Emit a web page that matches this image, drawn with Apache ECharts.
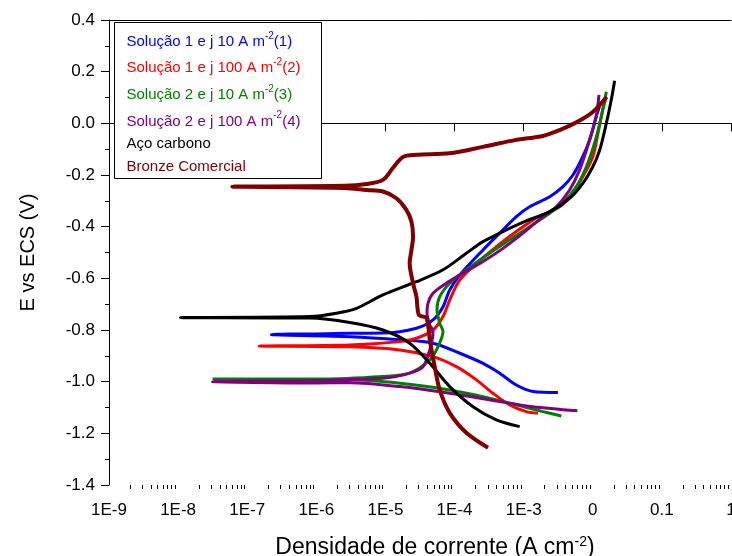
<!DOCTYPE html>
<html>
<head>
<meta charset="utf-8">
<script src="https://cdn.jsdelivr.net/npm/echarts@6.0.0/dist/echarts.min.js"></script>
<style>
html,body{margin:0;padding:0;background:#fff;}
#chart{width:732px;height:556px;}
</style>
</head>
<body>
<div id="chart"></div>
<script>
const FONT = "'Liberation Sans', Arial, sans-serif";

const xTickLabels = ['1E-9','1E-8','1E-7','1E-6','1E-5','1E-4','1E-3','0','0.1','1'];
const xMin = 1e-9, xMax = 1;
const yMin = -1.4, yMax = 0.4, yStep = 0.2;

const seriesNames = [
  'Solução 1 e j 10 A m-2(1)',
  'Solução 1 e j 100 A m-2(2)',
  'Solução 2 e j 10 A m-2(3)',
  'Solução 2 e j 100 A m-2(4)',
  'Aço carbono',
  'Bronze Comercial'
];
const seriesColors = ['#0000FF','#FF0000','#008000','#800080','#000000','#800000'];

// current density (A cm-2) and potential (V vs ECS), cathodic end -> Ecorr -> anodic end
const blueJ = [3.13e-3,1.36e-3,7.83e-4,4.5e-4,2.58e-4,1.19e-4,4.88e-5,1.61e-5,3.05e-6,2.24e-7,3.05e-6,9.2e-6,2.81e-5,4.88e-5,6.81e-5,8.5e-5,1.19e-4,2.58e-4,4.5e-4,7.83e-4,1.22e-3,2.38e-3,3.70e-3,5.16e-3,6.82e-3,9.0e-3,1.12e-2,1.3e-2];
const blueE = [-1.042,-1.038,-1.013,-0.967,-0.929,-0.890,-0.851,-0.838,-0.826,-0.818,-0.813,-0.812,-0.793,-0.761,-0.710,-0.645,-0.587,-0.490,-0.425,-0.361,-0.323,-0.284,-0.245,-0.200,-0.141,-0.064,0.026,0.079];

const redJ = [1.61e-3,1.09e-3,6.28e-4,3.6e-4,2.07e-4,1.06e-4,4.88e-5,1.61e-5,3.05e-6,1.49e-7,3.05e-6,1.61e-5,2.81e-5,4.88e-5,6.81e-5,8.5e-5,1.19e-4,2.07e-4,4.03e-4,7.83e-4,1.53e-3,3.32e-3,5.16e-3,7.19e-3,1.0e-2,1.19e-2,1.39e-2,1.57e-2];
const redE = [-1.122,-1.116,-1.090,-1.045,-0.993,-0.942,-0.903,-0.877,-0.865,-0.862,-0.858,-0.845,-0.832,-0.800,-0.748,-0.684,-0.606,-0.542,-0.477,-0.419,-0.366,-0.323,-0.271,-0.206,-0.129,-0.038,0.052,0.102];

const greenJ = [3.51e-3,1.90e-3,7.83e-4,2.58e-4,8.5e-5,1.61e-5,3.05e-6,1.0e-6,3.15e-8,1.0e-6,9.2e-6,2.24e-5,4.38e-5,5.77e-5,6.81e-5,6.1e-5,5.57e-5,6.1e-5,8.5e-5,1.48e-4,3.22e-4,6.28e-4,1.22e-3,2.38e-3,3.70e-3,5.78e-3,8.07e-3,1.06e-2,1.33e-2,1.57e-2];
const greenE = [-1.133,-1.116,-1.090,-1.058,-1.032,-1.006,-0.993,-0.993,-0.990,-0.990,-0.980,-0.967,-0.916,-0.864,-0.806,-0.774,-0.722,-0.671,-0.619,-0.567,-0.503,-0.451,-0.400,-0.348,-0.309,-0.245,-0.168,-0.077,0.026,0.1225];

const purpleJ = [5.98e-3,1.36e-3,4.5e-4,8.5e-5,1.61e-5,3.05e-6,1.0e-6,3.15e-8,1.0e-6,9.2e-6,2.24e-5,3.5e-5,4.38e-5,4.88e-5,4.38e-5,4.0e-5,4.13e-5,4.88e-5,7.62e-5,1.32e-4,2.58e-4,5.02e-4,9.77e-4,1.90e-3,2.97e-3,4.62e-3,6.46e-3,9.0e-3,1.12e-2,1.23e-2];
const purpleE = [-1.113,-1.097,-1.077,-1.045,-1.019,-1.004,-1.005,-1.000,-0.995,-0.987,-0.967,-0.942,-0.877,-0.807,-0.780,-0.735,-0.696,-0.658,-0.619,-0.580,-0.535,-0.484,-0.425,-0.361,-0.323,-0.258,-0.180,-0.064,0.026,0.110];

const blackJ = [8.75e-4,4.03e-4,1.85e-4,8.5e-5,4.38e-5,2.24e-5,9.2e-6,3.05e-6,8.0e-7,1.08e-8,8.0e-7,1.95e-6,3.81e-6,9.2e-6,2.81e-5,6.81e-5,1.48e-4,2.58e-4,5.02e-4,1.09e-3,2.38e-3,4.62e-3,7.19e-3,1.0e-2,1.26e-2,1.57e-2,1.85e-2,2.07e-2];
const blackE = [-1.174,-1.148,-1.097,-1.019,-0.929,-0.851,-0.800,-0.771,-0.754,-0.752,-0.748,-0.735,-0.716,-0.664,-0.613,-0.567,-0.503,-0.458,-0.419,-0.378,-0.342,-0.290,-0.232,-0.168,-0.103,0.000,0.090,0.165];

const bronzeJ = [3.05e-4,1.48e-4,8.5e-5,6.1e-5,5.16e-5,4.38e-5,3.92e-5,3.05e-5,2.81e-5,2.51e-5,2.24e-5,2.38e-5,2.51e-5,2.38e-5,2.01e-5,1.44e-5,9.2e-6,5.31e-6,2.58e-6,6.1e-8,2.58e-6,5.31e-6,9.2e-6,1.28e-5,1.79e-5,2.81e-5,8.5e-5,2.58e-4,7.83e-4,1.90e-3,3.32e-3,5.9e-3,1.0e-2,1.58e-2];
const bronzeE = [-1.256,-1.198,-1.121,-1.032,-0.942,-0.838,-0.753,-0.742,-0.671,-0.619,-0.542,-0.490,-0.439,-0.381,-0.335,-0.290,-0.264,-0.258,-0.250,-0.245,-0.242,-0.235,-0.219,-0.173,-0.130,-0.122,-0.116,-0.091,-0.064,-0.049,-0.026,0.005,0.044,0.102];

const curveJ = [blueJ, redJ, greenJ, purpleJ, blackJ, bronzeJ];
const curveE = [blueE, redE, greenE, purpleE, blackE, bronzeE];
const lineWidths = [3, 3, 3, 3, 3, 4];

// minor tick positions of the log axis (2..9 of each decade)
const xMinorTicks = [];
for (let d = -9; d < 0; d++) for (let m = 2; m <= 9; m++) xMinorTicks.push(m * Math.pow(10, d));

const chart = echarts.init(document.getElementById('chart'), null, {renderer: 'canvas'});

const lineSeries = seriesNames.map((name, k) => ({
  name: name,
  type: 'line',
  data: curveJ[k].map((j, i) => [j, curveE[k][i]]),
  showSymbol: false,
  symbol: 'none',
  smooth: 0.3,
  lineStyle: {color: seriesColors[k], width: lineWidths[k]},
  itemStyle: {color: seriesColors[k]},
  emphasis: {disabled: true},
  z: 3
}));

const minorTickSeries = {
  type: 'custom',
  silent: true,
  clip: false,
  z: 5,
  data: xMinorTicks.map(v => [v, yMin]),
  renderItem: (params, api) => {
    const p = api.coord([api.value(0), api.value(1)]);
    const x = Math.round(p[0]) + 0.5;
    return {type: 'line', shape: {x1: x, y1: p[1], x2: x, y2: p[1] + 4}, style: {stroke: '#000', lineWidth: 1}};
  }
};

// legend box (drawn as graphic so row spacing matches)
const legendBox = {x: 114.5, y: 22.5, w: 207, h: 156, textX: 126.5};
const legendRowY = [42.3, 68.3, 95, 121.7, 144.3, 166.7];

function legendText(name, color) {
  const m = name.match(/^(.*A m)-2(\(\d\))$/);
  const rich = {
    a: {fontFamily: FONT, fontSize: 15, lineHeight: 22, fill: color},
    s: {fontFamily: FONT, fontSize: 10, lineHeight: 10, verticalAlign: 'top', fill: color}
  };
  const text = m ? '{a|' + m[1] + '}{s|-2}{a|' + m[2] + '}' : '{a|' + name + '}';
  return {text, rich};
}

const legendGraphics = [{
  type: 'rect',
  z: 100,
  shape: {x: legendBox.x, y: legendBox.y, width: legendBox.w, height: legendBox.h},
  style: {fill: '#fff', stroke: '#000', lineWidth: 1}
}].concat(seriesNames.map((n, k) => {
  const t = legendText(n, seriesColors[k]);
  return {
    type: 'text',
    z: 101,
    x: legendBox.textX,
    y: legendRowY[k],
    style: {
      text: t.text, rich: t.rich, fill: seriesColors[k],
      fontFamily: FONT, fontSize: 15,
      align: 'left', verticalAlign: 'middle'
    }
  };
}));

chart.setOption({
  animation: false,
  backgroundColor: '#fff',
  grid: {left: 109, right: 1, top: 20, bottom: 71, containLabel: false, outerBoundsMode: 'none'},
  graphic: legendGraphics,
  xAxis: [{
    type: 'log',
    logBase: 10,
    min: xMin,
    max: xMax,
    splitNumber: 9,
    position: 'bottom',
    axisLine: {show: true, lineStyle: {color: '#000', width: 1}},
    axisTick: {show: true, length: 8, lineStyle: {color: '#000'}},
    minorTick: {show: false},
    splitLine: {show: false},
    axisLabel: {
      fontFamily: FONT, fontSize: 17, color: '#000', margin: 17,
      showMinLabel: true, showMaxLabel: true, hideOverlap: false,
      formatter: v => xTickLabels[Math.round(Math.log10(v)) + 9]
    },
    name: '{a|Densidade de corrente (A cm}{s|-2}{a|)}',
    nameLocation: 'middle',
    nameGap: 50,
    nameTextStyle: {
      fontFamily: FONT, fontSize: 23, color: '#000', padding: [0, 0, 0, 30],
      rich: {
        a: {fontFamily: FONT, fontSize: 23, lineHeight: 26, color: '#000'},
        s: {fontFamily: FONT, fontSize: 14, lineHeight: 14, verticalAlign: 'top', color: '#000'}
      }
    }
  }, {
    type: 'log',
    logBase: 10,
    min: xMin,
    max: xMax,
    position: 'top',
    axisLine: {show: true, lineStyle: {color: '#000', width: 1}},
    axisTick: {show: false},
    axisLabel: {show: false},
    splitLine: {show: false}
  }],
  yAxis: {
    type: 'value',
    min: yMin,
    max: yMax,
    interval: yStep,
    axisLine: {show: true, lineStyle: {color: '#000', width: 1}},
    axisTick: {show: true, length: 8, lineStyle: {color: '#000'}},
    minorTick: {show: true, splitNumber: 2, length: 4, lineStyle: {color: '#000'}},
    splitLine: {show: false},
    axisLabel: {
      fontFamily: FONT, fontSize: 17, color: '#000', margin: 14,
      formatter: v => (Math.abs(v) < 1e-9 ? 0 : v).toFixed(1)
    },
    name: 'E vs ECS (V)',
    nameLocation: 'middle',
    nameGap: 71,
    nameTextStyle: {fontFamily: FONT, fontSize: 20, color: '#000'}
  },
  series: lineSeries.concat([minorTickSeries])
});
</script>
</body>
</html>
